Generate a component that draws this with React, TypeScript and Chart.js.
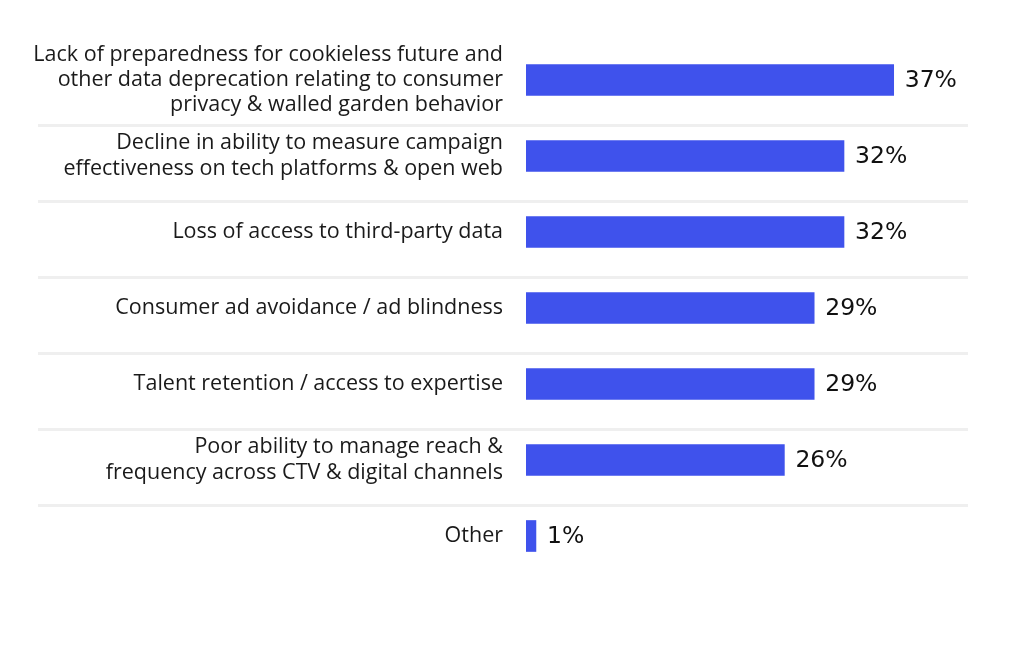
import React, { useEffect, useRef } from "react";
import { Chart, registerables } from "chart.js";

Chart.register(...registerables);

const categories: string[][] = [
  ["Lack of preparedness for cookieless future and", "other data deprecation relating to consumer", "privacy & walled garden behavior"],
  ["Decline in ability to measure campaign", "effectiveness on tech platforms & open web"],
  ["Loss of access to third-party data"],
  ["Consumer ad avoidance / ad blindness"],
  ["Talent retention / access to expertise"],
  ["Poor ability to manage reach &", "frequency across CTV & digital channels"],
  ["Other"],
];
const values: number[] = [37, 32, 32, 29, 29, 26, 1];
const valueLabels: string[] = ["37%", "32%", "32%", "29%", "29%", "26%", "1%"];

const BAR_COLOR = "#3F52EC";

const decorPlugin = {
  id: "decor",
  beforeDatasetsDraw(chart: any) {
    const { ctx, scales, chartArea } = chart;
    const y = scales.y;
    ctx.save();
    ctx.strokeStyle = "#efefef";
    ctx.lineWidth = 3;
    for (let i = 0; i < values.length - 1; i++) {
      const py = Math.round(y.getPixelForValue(i)) + 45.5;
      ctx.beginPath();
      ctx.moveTo(38, py);
      ctx.lineTo(chartArea.right - 35, py);
      ctx.stroke();
    }
    ctx.restore();
  },
  afterDatasetsDraw(chart: any) {
    const { ctx } = chart;
    const meta = chart.getDatasetMeta(0);
    ctx.save();
    ctx.fillStyle = "#111111";
    ctx.font = "23.5px 'DejaVu Sans'";
    ctx.textAlign = "left";
    ctx.textBaseline = "middle";
    meta.data.forEach((bar: any, i: number) => {
      ctx.fillText(valueLabels[i], bar.x + 11, bar.y + 1);
    });
    ctx.restore();
  },
};

export default function App() {
  const ref = useRef<HTMLCanvasElement | null>(null);
  useEffect(() => {
    if (!ref.current) return;
    const chart = new Chart(ref.current, {
      type: "bar",
      data: {
        labels: categories,
        datasets: [
          {
            data: values,
            backgroundColor: BAR_COLOR,
            borderWidth: 0,
            barThickness: 31,
          },
        ],
      },
      options: {
        indexAxis: "y",
        animation: false,
        responsive: false,
        maintainAspectRatio: false,
        layout: { padding: { top: 42, bottom: 96, left: 0, right: 9 } },
        plugins: { legend: { display: false }, tooltip: { enabled: false } },
        scales: {
          x: { display: false, min: 0, max: 48 },
          y: {
            afterFit(scale: any) {
              scale.width = 526;
            },
            border: { display: false },
            grid: { display: false, drawTicks: false },
            ticks: {
              autoSkip: false,
              padding: 23,
              color: "#1a1a1a",
              font: { family: "'Open Sans'", size: 21.5, lineHeight: 1.18 },
            },
          },
        },
      },
      plugins: [decorPlugin],
    });
    return () => chart.destroy();
  }, []);
  return (
    <div style={{ position: "fixed", left: 0, top: 0, width: 1012, height: 670, background: "#fff" }}>
      <canvas ref={ref} width={1012} height={670} />
    </div>
  );
}
